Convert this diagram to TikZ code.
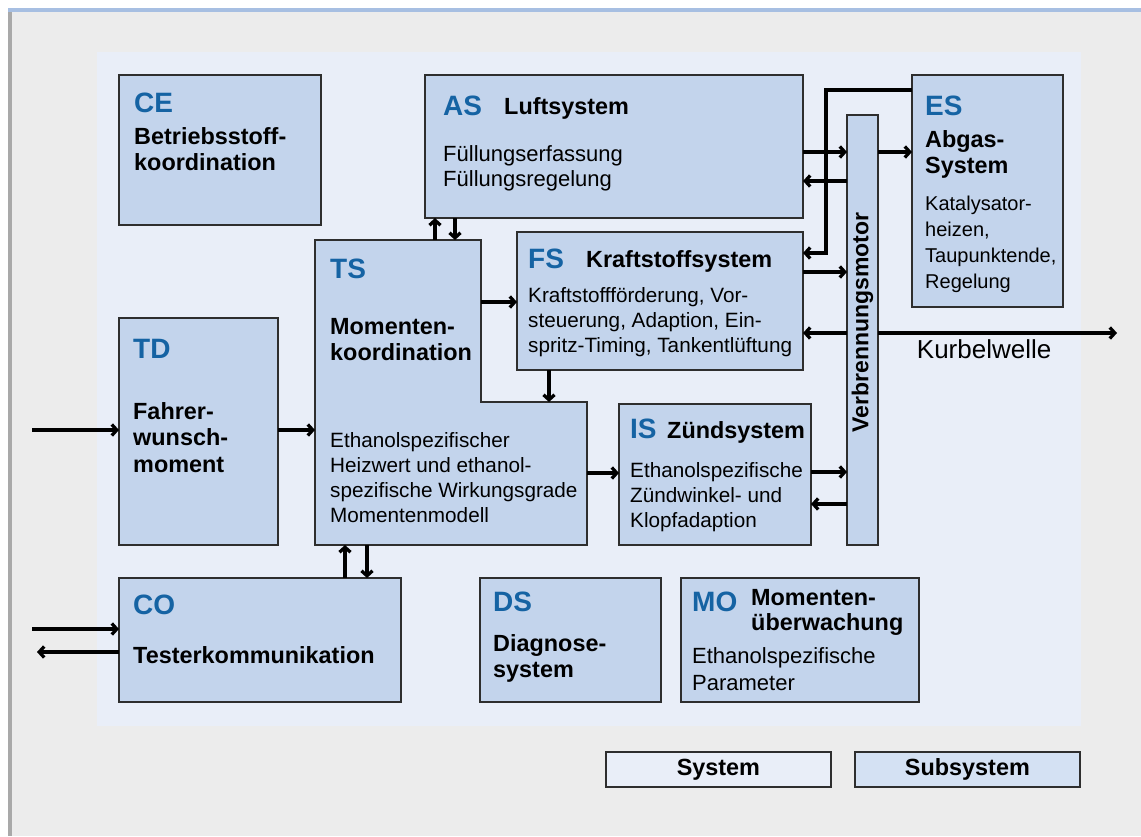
\documentclass[tikz,border=0pt]{standalone}
\usepackage{fontspec}
\setmainfont{Liberation Sans}
\usetikzlibrary{arrows.meta}
\definecolor{bggrey}{HTML}{ECECEC}
\definecolor{topblue}{HTML}{A7BFE2}
\definecolor{leftgrey}{HTML}{A9A9A9}
\definecolor{sysfill}{HTML}{E9EEF8}
\definecolor{subfill}{HTML}{C3D4EC}
\definecolor{legsub}{HTML}{D4E1F3}
\definecolor{bordc}{HTML}{2E2E2E}
\definecolor{abbrblue}{HTML}{1563A3}
\newcommand\blk[1]{\begin{tabular}[t]{@{}l@{}}#1\end{tabular}}
\newcommand\abbrf{\fontsize{28}{30}\selectfont\bfseries\color{abbrblue}}
\newcommand\boldf{\fontsize{23.4}{26.5}\selectfont\bfseries}
\newcommand\bodyf{\fontsize{20.7}{25}\selectfont}
\begin{document}
\begin{tikzpicture}[x=1pt,y=-1pt,
  box/.style={draw=bordc,fill=subfill,line width=1.8pt,inner sep=0pt,outer sep=0pt,anchor=north west},
  ghost/.style={inner sep=0pt,outer sep=0pt,anchor=north west},
  txt/.style={inner sep=0pt,anchor=base west},
  arr/.style={line width=3.3pt,-{Straight Barb[length=5pt,width=11pt]}},
  legbox/.style={draw=bordc,line width=1.8pt,inner sep=0pt,minimum width=225,minimum height=35,anchor=north west,font=\boldf}]
\useasboundingbox (0,0) rectangle (1141,836);
% background
\fill[white] (0,0) rectangle (1141,836);
\fill[bggrey] (8,8) rectangle (1141,836);
\fill[topblue] (8,8) rectangle (1141,12);
\fill[leftgrey] (8,12) rectangle (12,836);
\fill[sysfill] (97,52) rectangle (1081,726);
% boxes
\newcommand\mkbox[5]{\node[box,minimum width={#4-#2},minimum height={#5-#3}] (#1) at (#2,#3) {};}
\mkbox{CE}{119}{75}{321}{225}
\mkbox{AS}{425}{75}{803}{218}
\mkbox{ES}{912}{75}{1063}{307}
\mkbox{EM}{847}{115}{878}{545}
\mkbox{FS}{517}{232}{803}{370}
\mkbox{IS}{619}{404}{811}{545}
\mkbox{TD}{119}{318}{278}{545}
\mkbox{CO}{119}{578}{401}{702}
\mkbox{DS}{480}{578}{661}{702}
\mkbox{MO}{681}{578}{919}{702}
% TS L-shape
\path[draw=bordc,fill=subfill,line width=1.8pt] (315,240) -- (481,240) -- (481,402) -- (587,402) -- (587,545) -- (315,545) -- cycle;
\node[ghost,minimum width=166,minimum height=305] (TSu) at (315,240) {};
\node[ghost,minimum width=272,minimum height=143] (TSl) at (315,402) {};
% texts
\node[txt] (CEa) at (134,112.7) {\abbrf CE};
\node[txt] (CEt) at (134,144) {\boldf\blk{Betriebsstoff-\\koordination}};
\node[txt] (ASa) at (443,115) {\abbrf AS};
\node[txt] (ASt) at (504,114) {\boldf Luftsystem};
\node[txt] (ASb) at (443,161) {\fontsize{22}{25.5}\selectfont\blk{Füllungserfassung\\Füllungsregelung}};
\node[txt] (ESa) at (925,115) {\abbrf ES};
\node[txt] (ESt) at (925,147.3) {\boldf\blk{Abgas-\\System}};
\node[txt] (ESb) at (925,210.7) {\fontsize{20}{26}\selectfont\blk{Katalysator-\\heizen,\\Taupunktende,\\Regelung}};
\node[txt] (TSa) at (330,278.3) {\abbrf TS};
\node[txt] (TSt) at (330,334) {\boldf\fontsize{23.4}{26}\selectfont\blk{Momenten-\\koordination}};
\node[txt] (TSb) at (330,447) {\bodyf\blk{Ethanolspezifischer\\Heizwert und ethanol-\\spezifische Wirkungsgrade\\Momentenmodell}};
\node[txt] (FSa) at (528,268.5) {\abbrf FS};
\node[txt] (FSt) at (586,267.5) {\boldf Kraftstoffsystem};
\node[txt] (FSb) at (528,302) {\bodyf\blk{Kraftstoffförderung, Vor-\\steuerung, Adaption, Ein-\\spritz-Timing, Tankentlüftung}};
\node[txt] (ISa) at (630,438.3) {\abbrf IS};
\node[txt] (ISt) at (667,438.3) {\boldf Zündsystem};
\node[txt] (ISb) at (630,477) {\bodyf\blk{Ethanolspezifische\\Zündwinkel- und\\Klopfadaption}};
\node[txt] (TDa) at (133,358.3) {\abbrf TD};
\node[txt] (TDt) at (133,419) {\boldf\blk{Fahrer-\\wunsch-\\moment}};
\node[txt] (COa) at (133,614.3) {\abbrf CO};
\node[txt] (COt) at (133,663.3) {\boldf Testerkommunikation};
\node[txt] (DSa) at (493,611.7) {\abbrf DS};
\node[txt] (DSt) at (493,651.7) {\boldf\fontsize{23.4}{25.6}\selectfont\blk{Diagnose-\\system}};
\node[txt] (MOa) at (692,611.7) {\abbrf MO};
\node[txt] (MOt) at (751,605) {\boldf\fontsize{23.4}{25}\selectfont\blk{Momenten-\\überwachung}};
\node[txt] (MOb) at (692,663.3) {\fontsize{22}{26.7}\selectfont\blk{Ethanolspezifische\\Parameter}};
\node[inner sep=0pt,rotate=90,font={\fontsize{23}{25}\selectfont\bfseries}] (EMt) at (862.5,322.5) {Verbrennungsmotor};
\node[txt] (KWt) at (916.7,358.3) {\fontsize{26}{28}\selectfont Kurbelwelle};
% legend
\node[legbox,fill=sysfill] (LS) at (605,751) {System};
\node[legbox,fill=legsub] (LSS) at (854,751) {Subsystem};
% connectors
\coordinate (tdin) at (32,430);
\draw[arr] (tdin) -- (TD.west |- tdin);
\draw[arr] (TD.east |- tdin) -- (TSu.west |- tdin);
\coordinate (coin) at (32,629);
\draw[arr] (coin) -- (CO.west |- coin);
\coordinate (coout) at (37,652);
\draw[arr] (CO.west |- coout) -- (coout);
\draw[arr] (CO.north -| 345,0) -- (TSu.south -| 345,0);
\draw[arr] (TSl.south -| 367,0) -- (CO.north -| 367,0);
\draw[arr] (TSu.north -| 435,0) -- (AS.south -| 435,0);
\draw[arr] (AS.south -| 455,0) -- (TSu.north -| 455,0);
\draw[arr] (TSu.east |- 0,302) -- (FS.west |- 0,302);
\draw[arr] (FS.south -| 549,0) -- (TSl.north -| 549,0);
\draw[arr] (TSl.east |- 0,473) -- (IS.west |- 0,473);
\draw[arr] (AS.east |- 0,152) -- (EM.west |- 0,152);
\draw[arr] (EM.west |- 0,181) -- (AS.east |- 0,181);
\coordinate (esk) at (826,90);
\draw[arr] (ES.west |- esk) -- (esk) |- (FS.east |- 0,253);
\draw[arr] (FS.east |- 0,272) -- (EM.west |- 0,272);
\draw[arr] (EM.east |- 0,152) -- (ES.west |- 0,152);
\coordinate (kw) at (1117,333);
\draw[arr] (EM.west |- kw) -- (FS.east |- kw);
\draw[arr] (EM.east |- kw) -- (kw);
\draw[arr] (IS.east |- 0,472) -- (EM.west |- 0,472);
\draw[arr] (EM.west |- 0,504) -- (IS.east |- 0,504);
\end{tikzpicture}
\end{document}
